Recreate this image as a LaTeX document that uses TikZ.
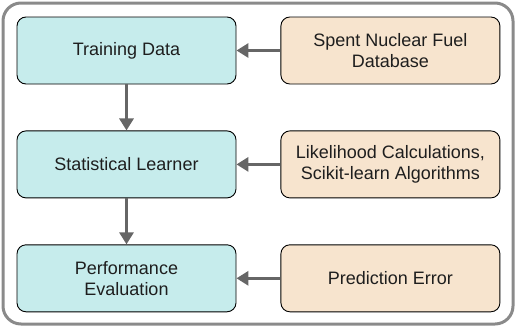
\documentclass[tikz,border=0pt]{standalone}
\usepackage{fontspec}
\setmainfont{Liberation Sans}
\usetikzlibrary{arrows.meta,positioning}
\definecolor{FlowInk}{HTML}{1E1E1E}
\definecolor{FlowArrow}{HTML}{666666}
\definecolor{FlowFrame}{HTML}{8A8A8A}
\definecolor{FlowCyan}{HTML}{C6ECEC}
\definecolor{FlowPeach}{HTML}{F7E4CE}
\tikzset{
  every node/.style={font=\fontsize{18}{21}\selectfont, text=FlowInk},
  stage/.style={draw=black, line width=0.9pt, rounded corners=9pt, minimum width=219pt, minimum height=67pt, align=center, inner sep=2pt},
  learn/.style={stage, fill=FlowCyan},
  source/.style={stage, fill=FlowPeach},
  frame/.style={draw=FlowFrame, line width=3pt, rounded corners=18pt},
  flow/.style={-{Triangle[length=12pt,width=14pt]}, draw=FlowArrow, line width=3pt},
}
\begin{document}
\begin{tikzpicture}[x=1pt,y=-1pt]
  \useasboundingbox (0,0) rectangle (516,327);
  % Outer frame
  \draw[frame] (3,3) rectangle (513,324);
  % Learning pipeline on the left
  \node[learn] (train) at (126.5,50.5) {Training Data};
  \node[learn, below=46pt of train] (learner) {Statistical Learner};
  \node[learn, below=46pt of learner] (perf) {Performance\\Evaluation};
  % Inputs on the right
  \node[source, right=44pt of train] (fuel) {Spent Nuclear Fuel\\Database};
  \node[source, right=44pt of learner] (algo) {Likelihood Calculations,\\Scikit-learn Algorithms};
  \node[source, right=44pt of perf] (error) {Prediction Error};
  % Connectors
  \draw[flow] (train) -- (learner);
  \draw[flow] (learner) -- (perf);
  \draw[flow] (fuel) -- (train);
  \draw[flow] (algo) -- (learner);
  \draw[flow] (error) -- (perf);
\end{tikzpicture}
\end{document}
